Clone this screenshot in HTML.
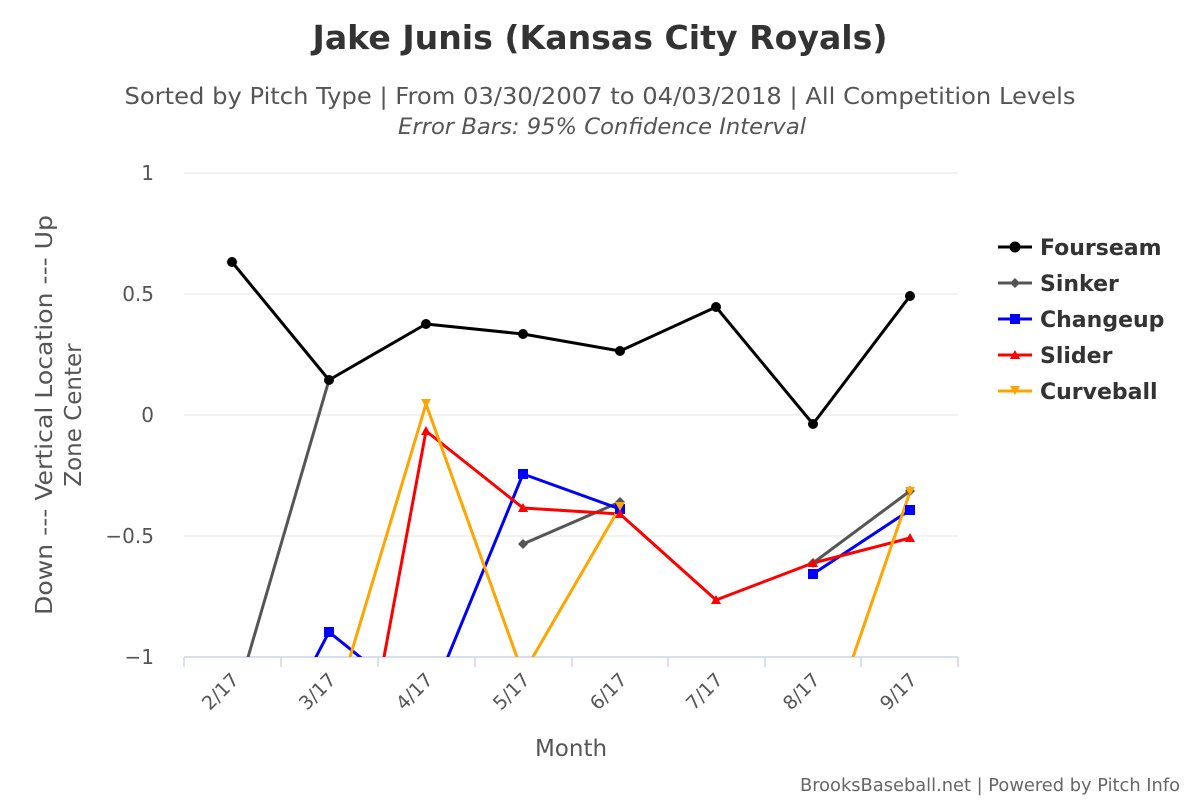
<!DOCTYPE html>
<html><head><meta charset="utf-8"><style>
html,body{margin:0;padding:0;width:1200px;height:800px;overflow:hidden;background:#fff;}
svg{display:block;font-family:"DejaVu Sans","Liberation Sans",sans-serif;}
</style></head><body>
<svg width="1200" height="800" viewBox="0 0 1200 800">
<rect width="1200" height="800" fill="#fff"/>
<text x="600" y="49" text-anchor="middle" font-size="33" font-weight="bold" fill="#333" textLength="575" lengthAdjust="spacingAndGlyphs">Jake Junis (Kansas City Royals)</text>
<text x="600" y="104" text-anchor="middle" font-size="23" fill="#555" textLength="951" lengthAdjust="spacingAndGlyphs">Sorted by Pitch Type | From 03/30/2007 to 04/03/2018 | All Competition Levels</text>
<text x="602" y="134" text-anchor="middle" font-size="22.5" font-style="italic" fill="#555" textLength="408" lengthAdjust="spacingAndGlyphs">Error Bars: 95% Confidence Interval</text>
<g stroke="#e6e6e6" stroke-width="1">
<line x1="184" x2="958" y1="173" y2="173"/><line x1="184" x2="958" y1="294" y2="294"/>
<line x1="184" x2="958" y1="415" y2="415"/><line x1="184" x2="958" y1="536" y2="536"/>
</g>
<g stroke="#ccd6eb" stroke-width="1.5">
<line x1="184" x2="958" y1="657" y2="657"/>
<line x1="184" x2="184" y1="657" y2="667"/><line x1="281" x2="281" y1="657" y2="667"/>
<line x1="378" x2="378" y1="657" y2="667"/><line x1="475" x2="475" y1="657" y2="667"/>
<line x1="572" x2="572" y1="657" y2="667"/><line x1="668" x2="668" y1="657" y2="667"/>
<line x1="765" x2="765" y1="657" y2="667"/><line x1="861" x2="861" y1="657" y2="667"/>
<line x1="958" x2="958" y1="657" y2="667"/>
</g>
<g font-size="20" fill="#555" text-anchor="end">
<text x="154" y="180">1</text><text x="154" y="301">0.5</text><text x="154" y="422">0</text>
<text x="154" y="543">−0.5</text><text x="154" y="664">−1</text>
</g>
<g font-size="19" fill="#555" text-anchor="end">
<text transform="translate(240,681) rotate(-45)">2/17</text>
<text transform="translate(337,681) rotate(-45)">3/17</text>
<text transform="translate(434,681) rotate(-45)">4/17</text>
<text transform="translate(531,681) rotate(-45)">5/17</text>
<text transform="translate(628,681) rotate(-45)">6/17</text>
<text transform="translate(724,681) rotate(-45)">7/17</text>
<text transform="translate(821,681) rotate(-45)">8/17</text>
<text transform="translate(918,681) rotate(-45)">9/17</text>
</g>
<text x="571" y="756" text-anchor="middle" font-size="23" fill="#555">Month</text>
<g font-size="23" fill="#555" text-anchor="middle">
<text transform="translate(52,415) rotate(-90)" textLength="400" lengthAdjust="spacingAndGlyphs">Down --- Vertical Location --- Up</text>
<text transform="translate(81,415) rotate(-90)">Zone Center</text>
</g>
<defs><clipPath id="c"><rect x="184" y="160" width="790" height="497"/></clipPath></defs>
<g clip-path="url(#c)" fill="none" stroke-width="3" stroke-linejoin="round">
<polyline stroke="#000" points="232,262 329,380 426,324 523,334 620,351 716,307 813,424 910,296"/>
<polyline stroke="#555" points="232,712 329,380"/>
<polyline stroke="#555" points="523,544 620,502"/>
<polyline stroke="#555" points="813,563 910,491"/>
<polyline stroke="#0000ff" points="232,818 329,632 426,710 523,474 620,509"/>
<polyline stroke="#0000ff" points="813,574 910,510"/>
<polyline stroke="#ff0000" points="329,953 426,431 523,508 620,514 716,600 813,563 910,538"/>
<polyline stroke="#ffa500" points="329,727 426,404 523,674 620,507"/>
<polyline stroke="#ffa500" points="813,773 910,492"/>
</g>
<g fill="#000">
<circle cx="232" cy="262" r="5"/><circle cx="329" cy="380" r="5"/><circle cx="426" cy="324" r="5"/>
<circle cx="523" cy="334" r="5"/><circle cx="620" cy="351" r="5"/><circle cx="716" cy="307" r="5"/>
<circle cx="813" cy="424" r="5"/><circle cx="910" cy="296" r="5"/>
</g>
<g fill="#555">
<path d="M523 539l5 5-5 5-5-5z"/><path d="M620 497l5 5-5 5-5-5z"/>
<path d="M813 558l5 5-5 5-5-5z"/><path d="M910 486l5 5-5 5-5-5z"/>
</g>
<g fill="#0000ff">
<rect x="324" y="627" width="10" height="10"/><rect x="518" y="469" width="10" height="10"/>
<rect x="615" y="504" width="10" height="10"/><rect x="808" y="569" width="10" height="10"/>
<rect x="905" y="505" width="10" height="10"/>
</g>
<g fill="#ff0000">
<path d="M426 426l5 9h-10z"/><path d="M523 503l5 9h-10z"/><path d="M620 509l5 9h-10z"/>
<path d="M716 595l5 9h-10z"/><path d="M813 558l5 9h-10z"/><path d="M910 533l5 9h-10z"/>
</g>
<g fill="#ffa500">
<path d="M421 399h10l-5 9z"/><path d="M615 502h10l-5 9z"/><path d="M905 487h10l-5 9z"/>
</g>
<g font-size="22" font-weight="bold" fill="#333">
<line x1="998" x2="1032" y1="247" y2="247" stroke="#000" stroke-width="3"/><circle cx="1015" cy="247" r="5.5" fill="#000"/>
<text x="1040" y="255">Fourseam</text>
<line x1="998" x2="1032" y1="283" y2="283" stroke="#555" stroke-width="3"/><path d="M1015 278l5 5-5 5-5-5z" fill="#555"/>
<text x="1040" y="291">Sinker</text>
<line x1="998" x2="1032" y1="319" y2="319" stroke="#0000ff" stroke-width="3"/><rect x="1010" y="314" width="10" height="10" fill="#0000ff"/>
<text x="1040" y="327">Changeup</text>
<line x1="998" x2="1032" y1="355" y2="355" stroke="#ff0000" stroke-width="3"/><path d="M1015 350l5 9h-10z" fill="#ff0000"/>
<text x="1040" y="363">Slider</text>
<line x1="998" x2="1032" y1="391" y2="391" stroke="#ffa500" stroke-width="3"/><path d="M1010 386h10l-5 9z" fill="#ffa500"/>
<text x="1040" y="399">Curveball</text>
</g>
<text x="1180" y="791" text-anchor="end" font-size="17.5" fill="#666" textLength="380" lengthAdjust="spacingAndGlyphs">BrooksBaseball.net | Powered by Pitch Info</text>
</svg>
</body></html>
